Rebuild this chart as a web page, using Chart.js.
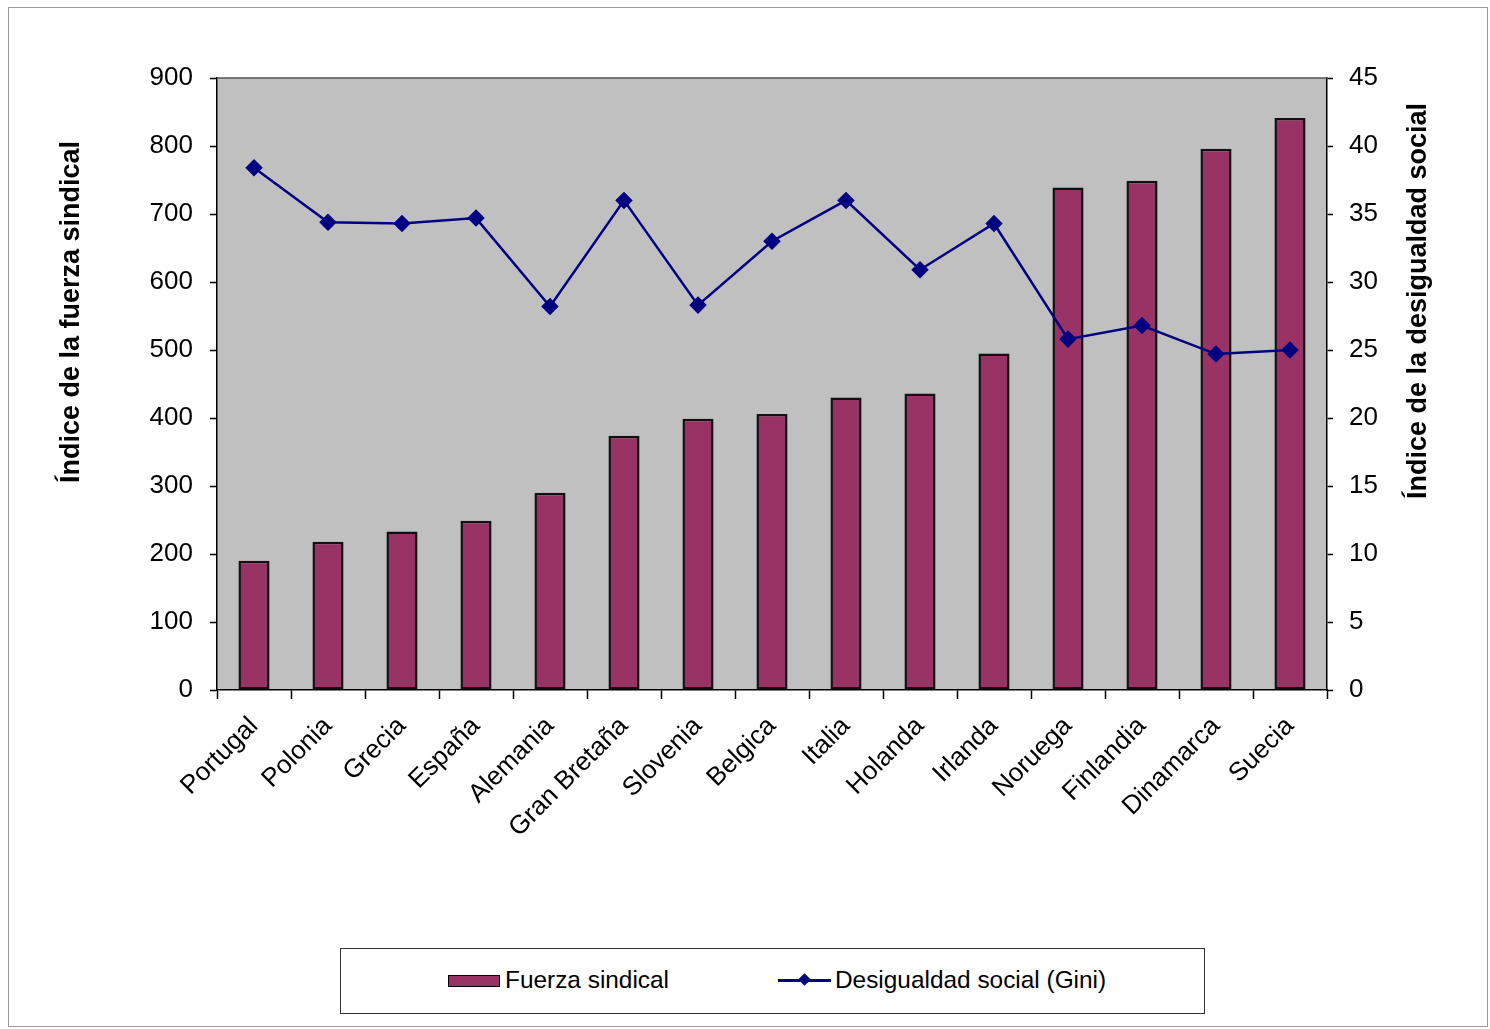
<!DOCTYPE html>
<html>
<head>
<meta charset="utf-8">
<script src="https://cdn.jsdelivr.net/npm/chart.js@4.4.0/dist/chart.umd.min.js"></script>
<style>
  body { margin: 0; background: #fff; }
  #wrap { position: relative; width: 1490px; height: 1029px; }
  #legend {
    position: absolute; left: 340px; top: 948px; width: 863px; height: 64px;
    border: 1.5px solid #333; background: #fff;
    font-family: "Liberation Sans", Arial, sans-serif; font-size: 24.4px; color: #000;
  }
  #legend .txt { position: absolute; top: 17px; line-height: 28px; white-space: nowrap; }
</style>
</head>
<body>
<div id="wrap">
  <canvas id="grafico" width="1490" height="1029"></canvas>
  <div id="legend">
    <div style="position:absolute;left:107px;top:26px;width:50px;height:10px;background:#993366;border:1.5px solid #000;"></div>
    <div class="txt" style="left:164px;">Fuerza sindical</div>
    <div style="position:absolute;left:437px;top:30px;width:53px;height:2.5px;background:#000080;"></div>
    <div style="position:absolute;left:459px;top:26px;width:9px;height:9px;background:#000080;transform:rotate(45deg);"></div>
    <div class="txt" style="left:494px;">Desigualdad social (Gini)</div>
  </div>
</div>
<script>
// datos
const paises = ['Portugal', 'Polonia', 'Grecia', 'España', 'Alemania', 'Gran Bretaña', 'Slovenia',
  'Belgica', 'Italia', 'Holanda', 'Irlanda', 'Noruega', 'Finlandia', 'Dinamarca', 'Suecia'];
const fuerzaSindical = [190, 218, 233, 249, 290, 374, 399, 406, 430, 436, 495, 739, 749, 796, 841];
const desigualdadGini = [38.4, 34.4, 34.3, 34.7, 28.2, 36.0, 28.3, 33.0, 36.0, 30.9, 34.3, 25.8, 26.8, 24.7, 25.0];
const ticksIzq = [0, 100, 200, 300, 400, 500, 600, 700, 800, 900];
const ticksDer = [0, 5, 10, 15, 20, 25, 30, 35, 40, 45];

const fuente = '"Liberation Sans", Arial, sans-serif';

// fondo gris del area, marco exterior y titulos de los ejes
const fondo = {
  id: 'fondo',
  beforeDraw(chart) {
    const { ctx, chartArea: a } = chart;
    ctx.save();
    ctx.fillStyle = '#c0c0c0';
    ctx.fillRect(a.left, a.top, a.right - a.left, a.bottom - a.top);
    ctx.strokeStyle = '#9a9a9a';
    ctx.lineWidth = 1;
    ctx.strokeRect(8.5, 7.5, 1479, 1019);
    ctx.restore();
  },
  afterDraw(chart) {
    const { ctx, chartArea: a } = chart;
    ctx.save();
    ctx.strokeStyle = '#555';
    ctx.lineWidth = 1.5;
    ctx.beginPath();
    ctx.moveTo(a.left, a.top);
    ctx.lineTo(a.right, a.top);
    ctx.stroke();
    ctx.fillStyle = '#000';
    ctx.font = 'bold 27px ' + fuente;
    ctx.textAlign = 'center';
    ctx.textBaseline = 'middle';
    ctx.translate(72, 312);
    ctx.rotate(-Math.PI / 2);
    ctx.fillText('Índice de la fuerza sindical', 0, 0);
    ctx.restore();
    ctx.save();
    ctx.fillStyle = '#000';
    ctx.font = 'bold 27px ' + fuente;
    ctx.textAlign = 'center';
    ctx.textBaseline = 'middle';
    ctx.translate(1419, 301);
    ctx.rotate(-Math.PI / 2);
    ctx.fillText('Índice de la desigualdad social', 0, 0);
    ctx.restore();
  }
};

const ctx = document.getElementById('grafico').getContext('2d');
const chart = new Chart(ctx, {
  type: 'bar',
  data: {
    labels: paises,
    datasets: [
      {
        type: 'line',
        label: 'Desigualdad social (Gini)',
        data: desigualdadGini,
        yAxisID: 'y1',
        borderColor: '#000080',
        backgroundColor: '#000080',
        borderWidth: 2.5,
        pointStyle: 'rectRot',
        pointRadius: 7,
        pointBackgroundColor: '#000080',
        pointBorderColor: '#000080',
        tension: 0,
        order: 0
      },
      {
        label: 'Fuerza sindical',
        data: fuerzaSindical,
        yAxisID: 'y',
        backgroundColor: '#993366',
        borderColor: '#111',
        borderWidth: 2.5,
        borderSkipped: false,
        barPercentage: 0.42,
        categoryPercentage: 1,
        order: 1
      }
    ]
  },
  options: {
    responsive: false,
    animation: false,
    layout: { padding: { top: 78, bottom: 139, left: 0, right: 0 } },
    plugins: {
      legend: { display: false },
      tooltip: { enabled: false }
    },
    scales: {
      x: {
        offset: true,
        grid: { offset: true, drawOnChartArea: false, drawTicks: true, tickLength: 9, color: '#000', tickWidth: 1.5 },
        border: { color: '#000', width: 1.5 },
        ticks: {
          color: '#000', font: { family: fuente, size: 26 },
          minRotation: 45, maxRotation: 45, autoSkip: false, padding: 12
        },
        afterFit(s) { s.height = 200; }
      },
      y: {
        position: 'left',
        min: 0, max: 900,
        afterBuildTicks(s) { s.ticks = ticksIzq.map(v => ({ value: v })); },
        grid: { drawOnChartArea: false, tickLength: 7, color: '#000', tickWidth: 1.5 },
        border: { color: '#000', width: 1.5 },
        ticks: { color: '#000', font: { family: fuente, size: 26 }, padding: 17 },
        afterFit(s) { s.width = 217; }
      },
      y1: {
        position: 'right',
        min: 0, max: 45,
        afterBuildTicks(s) { s.ticks = ticksDer.map(v => ({ value: v })); },
        grid: { drawOnChartArea: false, tickLength: 6, color: '#000', tickWidth: 1.5 },
        border: { color: '#000', width: 1.5 },
        ticks: { color: '#000', font: { family: fuente, size: 26 }, padding: 16 },
        afterFit(s) { s.width = 163; }
      }
    }
  },
  plugins: [fondo]
});
</script>
</body>
</html>
